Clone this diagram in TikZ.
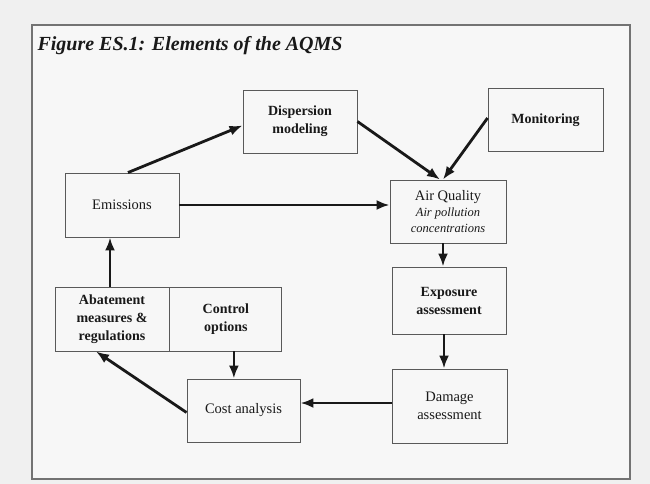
\documentclass[tikz,border=0pt]{standalone}
\usepackage{fontspec}
\setmainfont{Liberation Serif}
\usetikzlibrary{arrows.meta,positioning}
\colorlet{paperc}{black!6}
\colorlet{framec}{black!3}
\colorlet{linec}{black!65}
\tikzstyle{aqms} = [
  x=1pt, y=-1pt,
  box/.style={
    draw=linec,
    line width=0.9pt,
    align=center,
    inner sep=2pt,
    text=black!90,
    font=\fontsize{14.5}{18}\selectfont,
  },
  boldbox/.style={
    box,
    font=\fontsize{14}{18}\selectfont\bfseries,
  },
  arr/.style={
    draw=black!90,
    line width=2.8pt,
    -{Latex[length=13pt,width=10pt]},
  },
]

\begin{document}
\begin{tikzpicture}[aqms]
    \useasboundingbox (0,0) rectangle (650,484);
    \fill[paperc] (0,0) rectangle (650,484);

    % Frame and title
    \draw[fill=framec, draw=black!55, line width=1.3pt] (32,25) rectangle (630,479);
    \node[anchor=west, font=\fontsize{20}{24}\selectfont\bfseries\itshape, text=black!90]
        (title) at (34,46) {Figure ES.1: Elements of the AQMS};

    % Boxes
    \node[boldbox, minimum width=114pt, minimum height=63pt] (disp) at (300,121.5) {Dispersion\\modeling};
    \node[boldbox, minimum width=115pt, minimum height=63pt] (monit) at (545.5,120) {Monitoring};
    \node[box, minimum width=114pt, minimum height=64pt] (emis) at (122,205) {Emissions};
    \node[box, minimum width=116pt, minimum height=63pt] (airq) at (448,211.5)
        {Air Quality\\[-2pt]{\fontsize{12.5}{15}\selectfont\itshape Air pollution}\\[-2pt]
         {\fontsize{12.5}{15}\selectfont\itshape concentrations}};
    \node[boldbox, minimum width=114pt, minimum height=67pt] (expo) at (449,300.5) {Exposure\\assessment};
    \node[boldbox, minimum width=114pt, minimum height=64pt] (abat) at (112,319) {Abatement\\measures \&\\regulations};
    \node[boldbox, minimum width=112pt, minimum height=64pt, right=0pt of abat] (ctrl) {Control\\options};
    \node[box, minimum width=113pt, minimum height=63pt] (cost) at (243.5,410.5) {Cost analysis};
    \node[box, minimum width=115pt, minimum height=74pt] (dmg) at (449.5,406) {Damage\\assessment};

    % Connectors
    \draw[arr] ([xshift=6pt]emis.north) -- ([yshift=-4pt]disp.west);
    \draw[arr] (disp.east) -- ([xshift=-8pt]airq.north);
    \draw[arr] ([yshift=2pt]monit.west) -- ([xshift=-5pt]airq.north);
    \draw[arr] (emis.east) -- (emis.east -| airq.west);
    \draw[arr] ([xshift=-5pt]airq.south) -- ([xshift=-5pt]airq.south |- expo.north);
    \draw[arr] ([xshift=-5pt]expo.south) -- ([xshift=-5pt]expo.south |- dmg.north);
    \draw[arr] ([yshift=3pt]dmg.west) -- ([yshift=3pt]dmg.west -| cost.east);
    \draw[arr] ([yshift=-2pt]cost.west) -- ([xshift=-16pt]abat.south);
    \draw[arr] ([xshift=8pt]ctrl.south) -- ([xshift=8pt]ctrl.south |- cost.north);
    \draw[arr] ([xshift=-2pt]abat.north) -- ([xshift=-2pt]abat.north |- emis.south);
\end{tikzpicture}
\end{document}
